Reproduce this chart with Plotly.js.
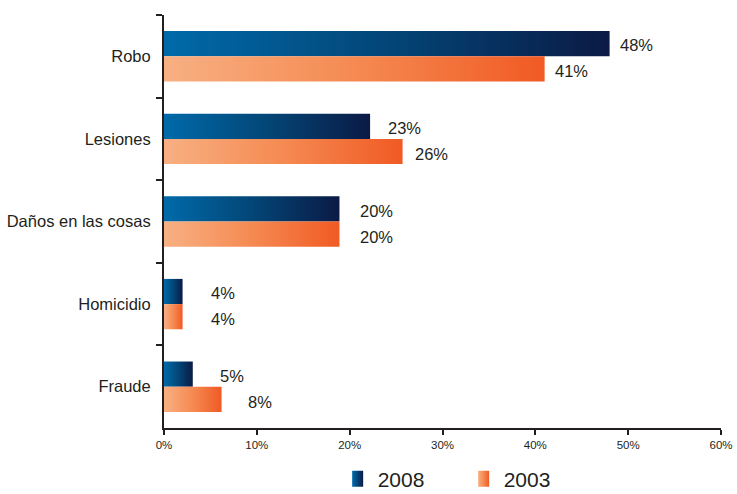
<!DOCTYPE html>
<html>
<head>
<meta charset="utf-8">
<script src="https://cdn.plot.ly/plotly-3.0.1.min.js"></script>
<style>
  html, body { margin: 0; padding: 0; background: #ffffff; }
  #chart { width: 737px; height: 494px; }
</style>
</head>
<body>
<div id="chart"></div>
<script>
// ---- data ----
const categories = ["Robo", "Lesiones", "Daños en las cosas", "Homicidio", "Fraude"];
const seriesNames = ["2008", "2003"];
// bar lengths as drawn in the picture (percent)
const bars2008 = [48.0, 22.2, 18.9, 2.0, 3.1];
const bars2003 = [41.0, 25.7, 18.9, 2.0, 6.2];
// printed value labels (percent)
const labels2008 = [48, 23, 20, 4, 5];
const labels2003 = [41, 26, 20, 4, 8];
const xTickVals = [0, 10, 20, 30, 40, 50, 60];
const xTickText = ["0%", "10%", "20%", "30%", "40%", "50%", "60%"];

const ink = "#231f20";
const FONT = "Liberation Sans, Arial, sans-serif";

const data = [
  { type: "bar", orientation: "h", name: seriesNames[0], y: categories, x: bars2008,
    marker: { color: "#03467a" }, hoverinfo: "skip" },
  { type: "bar", orientation: "h", name: seriesNames[1], y: categories, x: bars2003,
    marker: { color: "#f4773a" }, hoverinfo: "skip" }
];

const annotations = [];
categories.forEach((c, i) => {
  annotations.push({ x: labels2008[i], y: c, xref: "x", yref: "y", text: labels2008[i] + "%",
    showarrow: false, xanchor: "left", yanchor: "middle", xshift: 8, yshift: 11,
    font: { family: FONT, size: 16.5, color: ink } });
  annotations.push({ x: labels2003[i], y: c, xref: "x", yref: "y", text: labels2003[i] + "%",
    showarrow: false, xanchor: "left", yanchor: "middle", xshift: 8, yshift: -15,
    font: { family: FONT, size: 16.5, color: ink } });
});

const layout = {
  width: 737, height: 494,
  margin: { l: 164, r: 16, t: 15, b: 66, autoexpand: false },
  paper_bgcolor: "#ffffff", plot_bgcolor: "#ffffff",
  font: { family: FONT, color: ink },
  barmode: "group", bargap: 0.39, bargroupgap: 0,
  xaxis: {
    range: [0, 60], tickvals: xTickVals, ticktext: xTickText,
    showgrid: false, zeroline: false, showline: true, linecolor: ink, linewidth: 2,
    ticks: "outside", ticklen: 5, tickwidth: 2, tickcolor: ink,
    tickfont: { family: FONT, size: 11.5, color: ink }, ticklabelstandoff: 0
  },
  yaxis: {
    autorange: "reversed", showgrid: false, zeroline: false,
    showline: true, linecolor: ink, linewidth: 2,
    ticks: "outside", tickson: "boundaries", ticklen: 6, tickwidth: 2, tickcolor: ink,
    tickfont: { family: FONT, size: 16.5, color: ink }, ticklabelstandoff: 8
  },
  showlegend: true,
  legend: {
    orientation: "h", x: 0.538, xanchor: "center", xref: "paper",
    y: 15 / 494, yanchor: "middle", yref: "container",
    font: { family: FONT, size: 21, color: ink },
    entrywidth: 81, entrywidthmode: "pixels", bgcolor: "rgba(0,0,0,0)"
  },
  annotations: annotations
};

Plotly.newPlot("chart", data, layout, { staticPlot: true, displayModeBar: false }).then(gd => {
  const ns = "http://www.w3.org/2000/svg";
  const svg = gd.querySelector(".main-svg");
  const defs = document.createElementNS(ns, "defs");
  function grad(id, stops) {
    const g = document.createElementNS(ns, "linearGradient");
    g.setAttribute("id", id);
    g.setAttribute("x1", "0"); g.setAttribute("y1", "0");
    g.setAttribute("x2", "1"); g.setAttribute("y2", "0");
    stops.forEach(([o, c]) => {
      const s = document.createElementNS(ns, "stop");
      s.setAttribute("offset", o); s.setAttribute("stop-color", c);
      g.appendChild(s);
    });
    defs.appendChild(g);
  }
  grad("gBlue", [["0", "#006aa9"], ["0.5", "#034677"], ["1", "#0b1a45"]]);
  grad("gOrange", [["0", "#f8b083"], ["0.5", "#f58a52"], ["1", "#f15a24"]]);
  svg.insertBefore(defs, svg.firstChild);
  const fills = ["url(#gBlue)", "url(#gOrange)"];
  gd.querySelectorAll(".barlayer .trace").forEach((t, i) => {
    t.querySelectorAll("path").forEach(p => { p.style.fill = fills[i]; });
  });
  gd.querySelectorAll(".legend .traces").forEach((t, i) => {
    const p = t.querySelector(".legendpoints path");
    if (p) { p.setAttribute("d", "M5.5,8H-5.5V-8H5.5Z"); p.style.fill = fills[i]; p.style.stroke = "none"; }
  });
});
</script>
</body>
</html>
